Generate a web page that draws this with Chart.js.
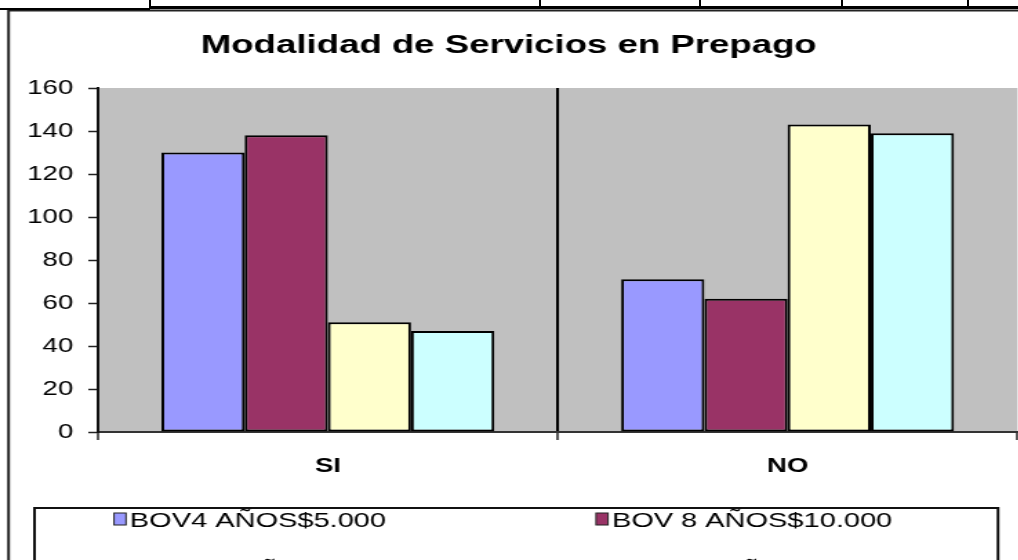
<!DOCTYPE html>
<html><head><meta charset="utf-8">
<script src="https://cdn.jsdelivr.net/npm/chart.js@4.4.1/dist/chart.umd.min.js"></script>
<style>
html,body{margin:0;padding:0;background:#fff;overflow:hidden;width:1018px;height:560px;position:relative;}
#wrap{position:absolute;left:0;top:0;width:760px;height:600px;transform:scaleX(1.38);transform-origin:0 0;}
canvas{display:block;}
.ln{position:absolute;background:#000;}
</style></head><body>
<div id="wrap"><canvas id="c" width="760" height="600"></canvas></div>
<div class="ln" style="left:0;top:8px;width:150px;height:2px"></div>
<div class="ln" style="left:150px;top:6px;width:868px;height:3px"></div>
<div class="ln" style="left:149px;top:0;width:2px;height:8px"></div>
<div class="ln" style="left:539px;top:0;width:2px;height:8px"></div>
<div class="ln" style="left:699px;top:0;width:2px;height:8px"></div>
<div class="ln" style="left:841px;top:0;width:2px;height:8px"></div>
<div class="ln" style="left:967px;top:0;width:2px;height:8px"></div>
<script>
const categories = ['SI', 'NO'];
const seriesNames = ['BOV4 AÑOS$5.000', 'BOV 8 AÑOS$10.000', 'BOV 12 AÑOS$15.000', 'BOV 16 AÑOS$20.000'];
const bov4 = [130, 71];
const bov8 = [138, 62];
const bov12 = [51, 143];
const bov16 = [47, 139];
const yMin = 0, yMax = 160, yStep = 20;
const titleText = 'Modalidad de Servicios en Prepago';

const FONT = "'Liberation Sans', Arial, sans-serif";
const colors = ['#9999FF', '#993366', '#FFFFCC', '#CCFFFF'];
const seriesValues = [bov4, bov8, bov12, bov16];

const framePlugin = {
  id: 'frame',
  beforeDraw(chart) {
    const ctx = chart.ctx, a = chart.chartArea;
    ctx.save();
    ctx.fillStyle = '#fff';
    ctx.fillRect(0, 0, chart.width, chart.height);
    ctx.strokeStyle = '#222';
    ctx.lineWidth = 2;
    ctx.strokeRect(6.2, 10.5, 745, 620);
    ctx.fillStyle = '#C0C0C0';
    ctx.fillRect(a.left, a.top, a.right - a.left, a.bottom - a.top);
    ctx.restore();
  }
};

const legendPlugin = {
  id: 'boxLegend',
  afterDraw(chart) {
    const ctx = chart.ctx;
    ctx.save();
    ctx.strokeStyle = '#111';
    ctx.lineWidth = 2;
    ctx.strokeRect(25, 508, 698.2, 120);
    const colX = [82.6, 431.9];
    const rowBase = [527, 577];
    ctx.font = '21px ' + FONT;
    ctx.textBaseline = 'alphabetic';
    ctx.textAlign = 'left';
    chart.data.datasets.forEach((ds, i) => {
      const cx = colX[i % 2], by = rowBase[Math.floor(i / 2)];
      ctx.fillStyle = ds.backgroundColor;
      ctx.fillRect(cx, by - 14, 8.7, 12);
      ctx.strokeStyle = '#222';
      ctx.lineWidth = 1;
      ctx.strokeRect(cx, by - 14, 8.7, 12);
      ctx.fillStyle = '#000';
      ctx.fillText(ds.label, cx + 11.5, by);
    });
    ctx.restore();
  }
};

new Chart(document.getElementById('c'), {
  type: 'bar',
  data: {
    labels: categories,
    datasets: seriesNames.map((name, i) => ({
      label: name,
      data: seriesValues[i],
      backgroundColor: colors[i],
      borderColor: '#000',
      borderWidth: 2,
      borderSkipped: false,
      categoryPercentage: 0.724,
      barPercentage: 1.0
    }))
  },
  options: {
    responsive: false,
    animation: false,
    devicePixelRatio: 1,
    layout: { padding: { left: 0, right: 22.7, top: 0, bottom: 122 } },
    plugins: {
      legend: { display: false },
      tooltip: { enabled: false },
      title: {
        display: true,
        text: titleText,
        color: '#000',
        font: { family: FONT, size: 26.5, weight: 'bold' },
        padding: { top: 30, bottom: 26.2 }
      }
    },
    scales: {
      x: {
        grid: {
          offset: true,
          drawOnChartArea: true,
          color: ctx => ctx.index === 1 ? '#000' : 'rgba(0,0,0,0)',
          lineWidth: 2,
          drawTicks: true,
          tickLength: 8,
          tickColor: '#222',
          tickWidth: 1.5
        },
        border: { display: true, color: '#333', width: 2 },
        ticks: { color: '#000', font: { family: FONT, size: 20, weight: 'bold' }, padding: 14, maxRotation: 0 },
        afterFit: s => { s.height = 46; }
      },
      y: {
        min: yMin, max: yMax,
        ticks: { stepSize: yStep, color: '#000', font: { family: FONT, size: 20 }, padding: 11 },
        grid: { drawOnChartArea: false, drawTicks: true, tickLength: 7, tickColor: '#222', tickWidth: 1.5 },
        border: { display: true, color: '#111', width: 2 },
        afterFit: s => { s.width = 71; }
      }
    }
  },
  plugins: [framePlugin, legendPlugin]
});
</script>
</body></html>
